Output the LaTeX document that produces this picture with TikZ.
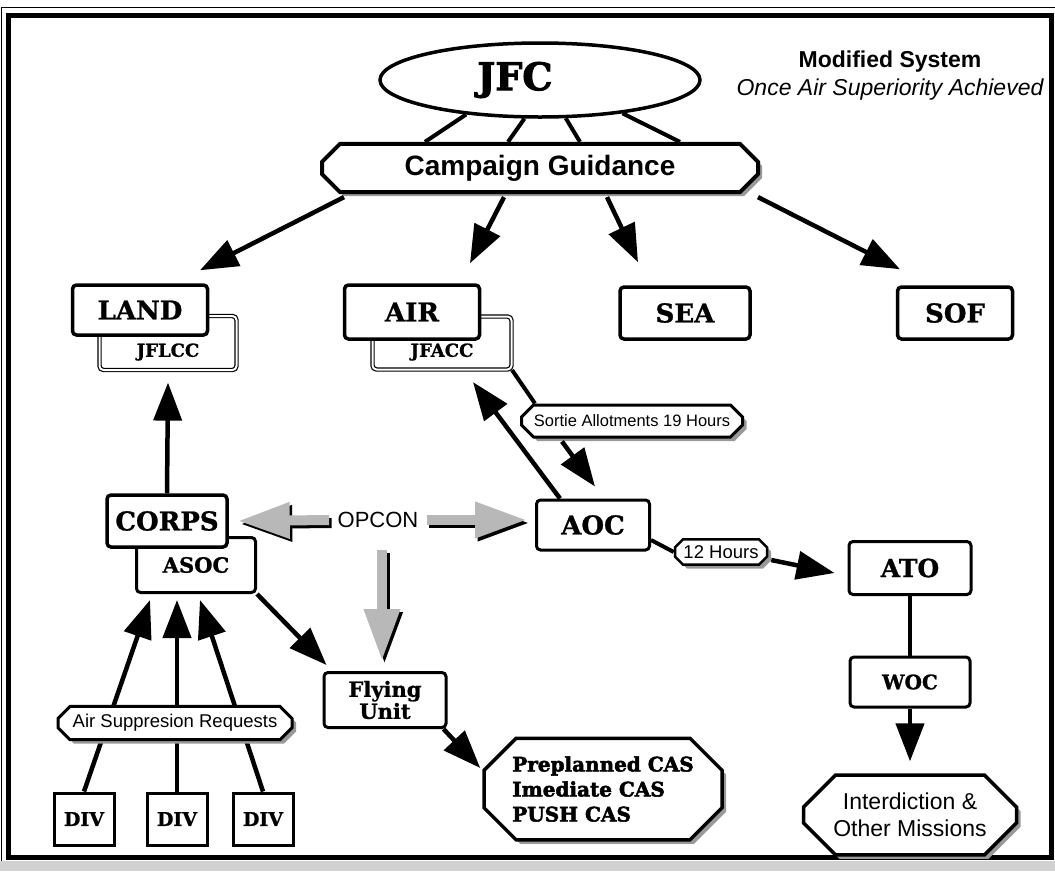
\documentclass[tikz,border=0pt]{standalone}
\usepackage{fontspec}
\setsansfont{Liberation Sans}
\newfontfamily\boxserif{DejaVu Serif}[FakeBold=1]
\newfontfamily\heavyserif{DejaVu Serif}[FakeBold=2.5]
\usepackage{tikz}
\usetikzlibrary{shapes,arrows.meta,shadows}
\tikzstyle{unitbox} = [draw, fill=white, line width=3.5pt, rounded corners=4pt, inner sep=2pt,
  minimum height=52pt, font=\boxserif\bfseries\fontsize{26}{28}\selectfont]
\tikzstyle{subbox} = [draw, fill=white, double, double distance=2pt, line width=1.2pt,
  rounded corners=4pt, minimum height=54pt]
\tikzstyle{tag} = [draw, fill=white, chamfered rectangle, chamfered rectangle sep=6pt,
  line width=3pt, inner sep=2pt, font=\sffamily,
  drop shadow={shadow xshift=4pt, shadow yshift=-4pt, fill=black!40, opacity=1}]
\tikzstyle{link} = [draw, line width=4pt]
\tikzstyle{flow} = [draw, line width=4.5pt, -{Triangle[length=38pt,width=28pt]}]
\tikzstyle{opconflow} = [draw=black!28, line width=10pt, -{Triangle[length=52pt,width=34pt]}]
\tikzstyle{opconshade} = [opconflow, draw=black, transform canvas={xshift=2.5pt,yshift=-3pt}]
\newcommand{\opconlink}[2]{\draw[opconshade] #1 -- #2; \draw[opconflow] #1 -- #2;}

\begin{document}
\begin{tikzpicture}[x=1pt,y=-1pt]
  \useasboundingbox (0,0) rectangle (1055,871);
  % frame
  \draw[line width=5pt] (8,15) rectangle (1051,857);
  \draw[line width=1pt] (1.5,866) -- (1.5,7) -- (1055,7);
  \fill[black!18] (0,861) rectangle (1055,871);

  % top
  \node[draw, ellipse, line width=3.5pt, minimum width=320pt, minimum height=74pt,
    label={[xshift=-25pt, font=\heavyserif\bfseries\fontsize{38}{40}\selectfont]center:JFC}] (jfc) at (540,80) {};
  \node[font=\sffamily\bfseries\fontsize{23}{26}\selectfont] (title) at (890,62) {Modified System};
  \node[font=\sffamily\itshape\fontsize{23}{26}\selectfont] (subtitle) at (890,90) {Once Air Superiority Achieved};
  \node[tag, line width=4pt, chamfered rectangle sep=9pt, minimum width=436pt, minimum height=43pt,
    font=\sffamily\bfseries\fontsize{28}{30}\selectfont] (guidance) at (540,168) {Campaign Guidance};

  % components
  \node[subbox, minimum width=137pt,
    label={[yshift=-9pt, font=\boxserif\bfseries\fontsize{18}{20}\selectfont]center:JFLCC}] (jflcc) at (168,343) {};
  \node[unitbox, minimum width=135pt, minimum height=50pt] (land) at (140,310) {LAND};
  \node[subbox, minimum width=139pt, minimum height=53pt,
    label={[yshift=-9pt, font=\boxserif\bfseries\fontsize{18}{20}\selectfont]center:JFACC}] (jfacc) at (442,343) {};
  \node[unitbox, minimum width=135pt, minimum height=54pt] (air) at (412,312) {AIR};
  \node[unitbox, minimum width=130pt] (sea) at (685,313) {SEA};
  \node[unitbox, minimum width=115pt] (sof) at (955,313) {SOF};

  % middle
  \node[unitbox, line width=3pt, minimum width=119pt, minimum height=55pt,
    font=\boxserif\bfseries\fontsize{21}{24}\selectfont] (asoc) at (196,565) {ASOC};
  \node[unitbox, minimum width=120pt] (corps) at (167,521) {CORPS};
  \node[font=\sffamily\fontsize{22}{24}\selectfont] (opcon) at (378,520) {OPCON};
  \node[unitbox, line width=3pt, minimum width=113pt, minimum height=50pt] (aoc) at (593,525) {AOC};
  \node[tag, minimum width=221pt, minimum height=32pt,
    font=\sffamily\fontsize{16.5}{18}\selectfont] (sortie) at (632,421) {Sortie Allotments 19 Hours};
  \node[tag, line width=2.5pt, chamfered rectangle sep=4pt, minimum width=92pt, minimum height=22pt,
    font=\sffamily\fontsize{18.5}{20}\selectfont] (twelve) at (721,552) {12 Hours};
  \node[unitbox, line width=3pt, minimum width=122pt, minimum height=53pt,
    font=\boxserif\bfseries\fontsize{25}{27}\selectfont] (ato) at (910,568) {ATO};
  \node[unitbox, line width=3pt, minimum width=120pt, minimum height=50pt,
    font=\boxserif\bfseries\fontsize{20}{22}\selectfont] (woc) at (910,682) {WOC};
  \node[tag, line width=3.5pt, chamfered rectangle sep=16pt, minimum width=213pt, minimum height=75pt,
    align=center, font=\sffamily\fontsize{23}{27}\selectfont] (missions) at (910,815) {Interdiction \&\\Other Missions};

  % bottom
  \node[unitbox, line width=3pt, minimum width=122pt, minimum height=55pt, align=center,
    font=\boxserif\bfseries\fontsize{21}{22}\selectfont] (flying) at (385,700) {Flying\\Unit};
  \node[tag, line width=3.5pt, chamfered rectangle sep=16pt, minimum width=238pt, minimum height=88pt,
    align=left, font=\heavyserif\bfseries\fontsize{20}{25}\selectfont] (support) at (603,789)
    {Preplanned CAS\\Imediate CAS\\PUSH CAS};
  \foreach \n/\x in {1/84, 2/177, 3/263}
    \node[unitbox, line width=3pt, rounded corners=0pt, minimum width=60pt,
      font=\boxserif\bfseries\fontsize{19}{21}\selectfont] (div\n) at (\x,819) {DIV};

  % connectors
  \foreach \a/\dx in {205/-115, 248/-32, 304/40, 338/140}
    \draw[link] (jfc.\a) -- ([shift={(\dx,0)}]guidance.north);
  \draw[flow] ([shift={(-196,3)}]guidance.south) -- ([shift={(60,-13)}]land.north);
  \draw[flow] ([shift={(-36,3)}]guidance.south) -- ([shift={(58,-20)}]air.north);
  \draw[flow] ([shift={(67,3)}]guidance.south) -- ([shift={(-47,-23)}]sea.north);
  \draw[flow] ([shift={(218,3)}]guidance.south) -- ([shift={(-55,-16)}]sof.north);

  \draw[flow] (corps.north) -- ([shift={(0,12)}]jflcc.south);
  \draw[flow] ([shift={(-33,0)}]aoc.north) -- ([shift={(31,12)}]jfacc.south);
  \draw[link] (jfacc.south east) -- ([shift={(-97,0)}]sortie.north);
  \draw[flow] ([shift={(-70,3)}]sortie.south) -- ([shift={(2,-12)}]aoc.north);
  \draw[link] ([shift={(0,15)}]aoc.east) -- (twelve.west);
  \draw[flow] ([shift={(3,8)}]twelve.east) -- ([shift={(-13,5)}]ato.west);
  \draw[link] (ato.south) -- (woc.north);
  \draw[flow] (woc.south) -- ([shift={(0,-12)}]missions.north);

  \opconlink{([shift={(-5,0)}]opcon.west)}{([shift={(9,0)}]corps.east)}
  \opconlink{([shift={(5,0)}]opcon.east)}{([shift={(-8,-5)}]aoc.west)}
  \opconlink{([shift={(4,19)}]opcon.south)}{([shift={(-3,-10)}]flying.north)}

  \draw[flow] (asoc.south east) -- ([shift={(4,-6)}]flying.north west);
  \draw[flow] ([shift={(-4,0)}]flying.south east) -- ([shift={(-2,-21)}]support.west);
  \foreach \n/\dx in {1/-46, 2/-19, 3/4}
    \draw[flow] (div\n.north) -- ([shift={(\dx,6)}]asoc.south);
  \node[tag, minimum width=234pt, minimum height=30pt,
    font=\sffamily\fontsize{18.5}{20}\selectfont] (requests) at (175,723) {Air Suppresion Requests};
\end{tikzpicture}
\end{document}
